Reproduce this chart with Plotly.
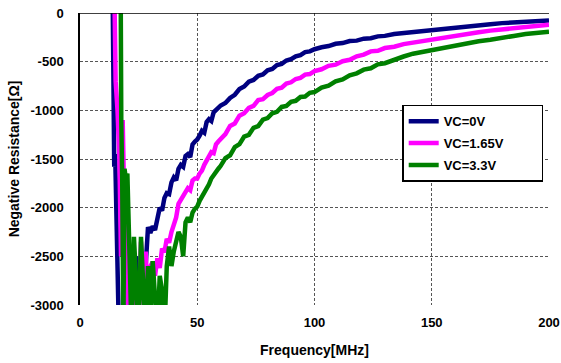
import plotly.graph_objects as go

# ---- data ----
series_names = ["VC=0V", "VC=1.65V", "VC=3.3V"]
series_colors = ["#000080", "#FF00FF", "#008000"]

freq_vc0 = [13.8, 14.2, 14.6, 15.0, 15.4, 15.8, 16.2, 16.6, 17,
            18, 19, 20, 21, 22, 23, 24, 25, 26, 27, 28, 29, 30, 31, 32, 33, 34, 35, 36, 37, 38, 39,
            40, 41, 42, 43, 44, 45, 46, 47, 48, 49, 50, 51, 52, 53, 54, 55, 56, 57, 58, 59, 60,
            62, 64, 66, 68, 70, 72, 74, 76, 78, 80, 82, 84, 86, 88, 90, 92, 94, 96, 98, 100,
            103, 106, 109, 112, 115, 118, 121, 124, 127, 130,
            134, 138, 142, 146, 150,
            155, 160, 165, 170, 175, 180, 185, 190, 195, 200]
res_vc0 = [500, -950, -1580, -1450, -2100, -2150, -2900, -3300, -3300,
           -3300, -3300, -3200, -2600, -2550, -2800, -2500, -2800, -2650, -2850, -2600, -2200, -2260,
           -2190, -2230, -2080, -2000, -2030, -1900, -1850, -1860, -1740,
           -1690, -1720, -1600, -1560, -1580, -1470, -1450, -1480, -1350, -1320, -1300, -1260, -1210,
           -1230, -1120, -1090, -1110, -1020, -1000, -980, -950,
           -925, -872, -840, -782, -755, -705, -688, -645, -632, -588, -575, -535, -522, -488, -474,
           -445, -432, -402, -394, -372,
           -352, -340, -316, -309, -288, -284, -264, -259, -240, -235,
           -216, -206, -190, -181, -166,
           -156, -142, -134, -122, -115, -104, -98, -89, -84, -76]

freq_vc165 = [13.5, 14.5, 15.2, 16, 16.8, 17.5, 18.2, 18.8, 19.5, 20, 20.5, 21.5, 22.5, 23, 24, 25,
              26, 27, 28, 29, 30,
              31, 32, 33, 34, 35, 36, 37, 38, 39, 40, 41, 42, 43, 44, 45, 46, 47, 48, 49, 50,
              51, 52, 53, 54, 55, 56, 57, 58, 59, 60,
              62, 64, 66, 68, 70, 72, 74, 76, 78, 80, 82, 84, 86, 88, 90, 92, 94, 96, 98, 100,
              103, 106, 109, 112, 115, 118, 121, 124, 127, 130,
              134, 138, 142, 146, 150,
              155, 160, 165, 170, 175, 180, 185, 190, 195, 200]
res_vc165 = [500, 500, -700, -1000, -1500, -2500, -1100, -1700, -2700, -2400, -3300, -3300, -2800,
             -3100, -2700, -3300, -2350, -2750, -2450, -3100, -2600,
             -2560, -2700, -2520, -2620, -2420, -2460, -2320, -2360, -2250, -2160, -2100, -1960,
             -1920, -1880, -1850, -1800, -1820, -1720, -1700, -1700,
             -1650, -1620, -1560, -1510, -1480, -1430, -1440, -1350, -1320, -1300,
             -1245, -1160, -1135, -1055, -1030, -975, -955, -895, -885, -842, -822, -780, -768,
             -725, -712, -678, -667, -633, -627, -596,
             -578, -543, -531, -495, -481, -445, -428, -394, -388, -360,
             -347, -320, -304, -283, -268,
             -247, -231, -212, -198, -181, -169, -154, -144, -130, -120]

freq_vc33 = [16.6, 17.3, 17.6, 18.0, 18.5, 19.0, 19.5, 20.2, 20.8, 21.3, 22, 23, 24, 25, 26, 27,
             28, 29, 30, 31, 32, 33, 34, 35, 36, 37, 38, 39, 40,
             41, 42, 43, 44, 45, 46, 47, 48, 49, 50, 51, 52, 53, 54, 55, 56, 57, 58, 59, 60,
             62, 64, 66, 68, 70, 72, 74, 76, 78, 80, 82, 84, 86, 88, 90, 92, 94, 96, 98, 100,
             103, 106, 109, 112, 115, 118, 121, 124, 127, 130,
             134, 138, 142, 146, 150,
             155, 160, 165, 170, 175, 180, 185, 190, 195, 200]
res_vc33 = [500, 500, -1100, -1700, -3300, -1600, -1700, -1650, -2200, -2800, -3300, -2300, -2650,
            -3300, -2300, -2800, -3300, -2600, -3100, -2550, -2900, -3300, -2700, -2850, -3300,
            -2600, -2400, -2600, -2450,
            -2350, -2250, -2300, -2500, -2150, -2100, -2150, -2050, -2010, -1990, -1930, -1890,
            -1830, -1790, -1760, -1700, -1660, -1630, -1600, -1570,
            -1490, -1462, -1378, -1348, -1270, -1252, -1180, -1162, -1095, -1080, -1030, -1015,
            -965, -955, -912, -902, -862, -858, -820, -812,
            -766, -746, -702, -682, -640, -620, -582, -568, -528, -516,
            -476, -447, -418, -400, -375,
            -357, -333, -315, -290, -274, -250, -236, -216, -207, -192]

x_ticks = [0, 50, 100, 150, 200]
y_ticks = [0, -500, -1000, -1500, -2000, -2500, -3000]
x_title = "Frequency[MHz]"
y_title = "Negative Resistance[Ω]"

FONT = "Liberation Sans, Arial, sans-serif"
PAD = "\u00a0" * 9   # trailing blank space so the legend box is as wide as the original

fig = go.Figure()
all_x = [freq_vc0, freq_vc165, freq_vc33]
all_y = [res_vc0, res_vc165, res_vc33]
for i in range(3):
    fig.add_trace(go.Scatter(
        x=all_x[i], y=all_y[i], mode="lines", name=series_names[i] + PAD,
        legendgroup=series_names[i],
        line=dict(color=series_colors[i], width=4.5),
        hovertemplate=series_names[i] + "<br>%{x} MHz, %{y} Ω<extra></extra>",
    ))

fig.update_layout(
    width=561, height=363,
    margin=dict(l=80, r=12, t=13, b=58, autoexpand=False),
    paper_bgcolor="white", plot_bgcolor="white",
    font=dict(family=FONT, size=13, color="black"),
    showlegend=True,
    legend=dict(
        x=0.687, y=0.686, xanchor="left", yanchor="top",
        bgcolor="white", bordercolor="black", borderwidth=1.5,
        font=dict(family=FONT, size=13, color="black", weight="bold"),
        tracegroupgap=2, itemwidth=30,
    ),
)

fig.update_xaxes(
    range=[0, 200], tickvals=x_ticks, ticktext=[str(v) for v in x_ticks],
    showgrid=True, gridcolor="#555555", griddash="3px,2px", gridwidth=1,
    zeroline=False, showline=False, ticks="", automargin=False,
    tickfont=dict(family=FONT, size=13, color="black", weight="bold"),
    ticklabelstandoff=8,
    title=dict(text=x_title, font=dict(family=FONT, size=14, color="black", weight="bold"), standoff=16),
)
fig.update_yaxes(
    range=[-3000, 0], tickvals=y_ticks, ticktext=[str(v) for v in y_ticks],
    showgrid=True, gridcolor="#555555", griddash="3px,2px", gridwidth=1,
    zeroline=False, showline=True, linecolor="black", linewidth=1.5, ticks="", automargin=False,
    tickfont=dict(family=FONT, size=13, color="black", weight="bold"),
    ticklabelstandoff=12,
    title=dict(text=y_title, font=dict(family=FONT, size=14, color="black", weight="bold"), standoff=8),
)
# horizontal axis line drawn at value 0 (top of plot, as in the original)
fig.add_shape(type="line", xref="x domain", yref="y", x0=0, x1=1, y0=0, y1=0,
              line=dict(color="black", width=1.5))

fig.write_html("out.html", config={"displayModeBar": False},
               post_script="document.body.style.margin='0';")
